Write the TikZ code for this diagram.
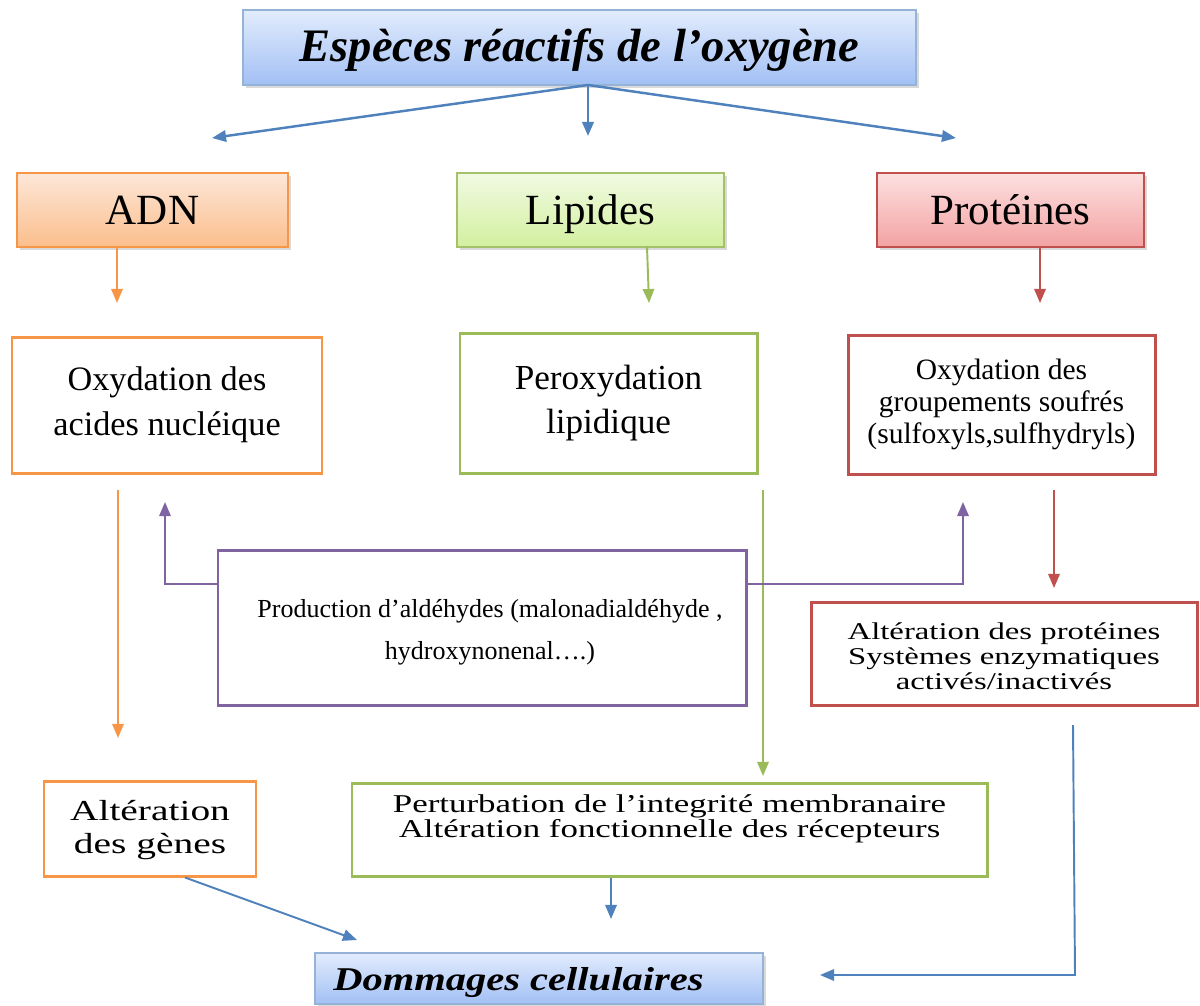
\documentclass[tikz,border=0pt]{standalone}
\usepackage{fontspec}
\setmainfont{Liberation Serif}
\newfontfamily\wideA[FakeStretch=1.36]{Liberation Serif}
\newfontfamily\wideC[FakeStretch=1.22]{Liberation Serif}
\usetikzlibrary{arrows.meta,shadows}
\newlength\px \setlength\px{0.02cm}
\definecolor{cblue}{HTML}{4F81BD}
\definecolor{corange}{HTML}{F79646}
\definecolor{cgreen}{HTML}{9BBB59}
\definecolor{cred}{HTML}{C0504D}
\definecolor{cpurple}{HTML}{8064A2}
\definecolor{btop}{HTML}{E2ECFD}
\definecolor{bbot}{HTML}{A2C0F4}
\definecolor{otop}{HTML}{FDE7D8}
\definecolor{obot}{HTML}{FBBE8C}
\definecolor{gtop}{HTML}{F1FAE2}
\definecolor{gbot}{HTML}{D3F0A0}
\definecolor{rtop}{HTML}{FDE0E0}
\definecolor{rbot}{HTML}{F3A2A2}
\tikzset{
  gbox/.style={draw, line width=0.9pt, inner sep=0pt, align=center,
     drop shadow={shadow xshift=1.5pt,shadow yshift=-1.5pt,opacity=0.3}},
  bluebox/.style={gbox, draw=cblue!60, top color=btop, bottom color=bbot},
  orangebox/.style={gbox, draw=corange, top color=otop, bottom color=obot},
  greenbox/.style={gbox, draw=cgreen!90, top color=gtop, bottom color=gbot},
  redbox/.style={gbox, draw=cred, top color=rtop, bottom color=rbot},
  tbox/.style={draw, line width=1.7pt, fill=white, inner sep=0pt, align=center},
  txt/.style={align=center, inner sep=0pt},
  arr/.style={line width=1.1pt, -{Triangle[length=8pt,width=6.5pt]}},
  headtxt/.style={font=\fontsize{24.5}{28}\selectfont, text height=17pt, text depth=0pt},
}
\begin{document}
\begin{tikzpicture}[x=0.02cm,y=-0.02cm]
\useasboundingbox (0,0) rectangle (1200,1005);
% top level
\node[bluebox, minimum width=673\px, minimum height=75\px, text height=16pt, text depth=0pt,
  font=\fontsize{26.5}{30}\selectfont\bfseries\itshape] (title) at (579.5,47.5)
  {Espèces réactifs de l’oxygène};
\node[orangebox, headtxt, minimum width=271\px, minimum height=74\px] (adn) at (152.5,210) {ADN};
\node[greenbox, headtxt, minimum width=267\px, minimum height=74\px] (lip) at (590.5,210) {Lipides};
\node[redbox, headtxt, minimum width=267\px, minimum height=74\px] (prot) at (1010.5,210) {Protéines};
% second level
\node[tbox, draw=corange, minimum width=310\px, minimum height=136\px,
  font=\fontsize{19.5}{25.5}\selectfont] (oxa) at (167,405)
  {Oxydation des\\ acides nucléique};
\node[tbox, draw=cgreen, minimum width=297\px, minimum height=140\px,
  font=\fontsize{20}{25.5}\selectfont] (perox) at (608.5,403)
  {Peroxydation\\ lipidique};
\node[tbox, draw=cred, minimum width=307\px, minimum height=139\px,
  font=\fontsize{16.8}{18}\selectfont] (oxs) at (1001.5,404.5)
  {Oxydation des\\ groupements soufrés\\ (sulfoxyls,sulfhydryls)};
% middle
\node[tbox, draw=cpurple, minimum width=528\px, minimum height=155\px] (prod) at (482,627.5) {};
\node[txt, font=\fontsize{14.8}{24}\selectfont] (prodt) at (490,632)
  {Production d’aldéhydes (malonadialdéhyde ,\\ hydroxynonenal….)};
\node[tbox, draw=cred, minimum width=386\px, minimum height=103\px] (altp) at (1004,653.5) {};
\node[txt, font=\wideA\fontsize{13.7}{14.2}\selectfont] (altpt) at (1004,656)
  {Altération des protéines\\ Systèmes enzymatiques\\ activés/inactivés};
% bottom
\node[tbox, draw=corange, minimum width=212\px, minimum height=95\px] (altg) at (150,828.5) {};
\node[txt, font=\wideA\fontsize{16.5}{19}\selectfont] (altgt) at (150,830)
  {Altération\\ des gènes};
\node[tbox, draw=cgreen, minimum width=635\px, minimum height=93\px] (pert) at (669.5,829.5) {};
\node[txt, font=\wideA\fontsize{14.6}{14.2}\selectfont] (pertt) at (669.5,819)
  {Perturbation de l’integrité membranaire\\ Altération fonctionnelle des récepteurs};
\node[bluebox, minimum width=448\px, minimum height=51\px, drop shadow={opacity=0}] (dom) at (539,978.5) {};
\node[anchor=base west, inner sep=0pt, font=\wideC\fontsize{18.9}{20}\selectfont\bfseries\itshape] (domt) at (333,990)
  {Dommages cellulaires};
% coordinates
\coordinate (t0) at (588,85);
\coordinate (tl) at (212,138);
\coordinate (tm) at (588,136);
\coordinate (tr) at (956,138);
% title arrows
\draw[arr, draw=cblue, line width=1.4pt] (t0) -- (tl);
\draw[arr, draw=cblue, line width=1.4pt] (t0) -- (tm);
\draw[arr, draw=cblue, line width=1.4pt] (t0) -- (tr);
% level arrows
\coordinate (a1) at (117,247); \coordinate (a2) at (117,303);
\draw[arr, draw=corange] (a1) -- (a2);
\coordinate (l1) at (647,247); \coordinate (l2) at (649,303);
\draw[arr, draw=cgreen] (l1) -- (l2);
\coordinate (p1) at (1040,247); \coordinate (p2) at (1040,303);
\draw[arr, draw=cred] (p1) -- (p2);
% long arrows
\coordinate (o1) at (118,490); \coordinate (o2) at (118,738);
\draw[arr, draw=corange] (o1) -- (o2);
\coordinate (g1) at (763,490); \coordinate (g2) at (763,776);
\draw[arr, draw=cgreen] (g1) -- (g2);
\coordinate (r1) at (1054,490); \coordinate (r2) at (1054,588);
\draw[arr, draw=cred] (r1) -- (r2);
% purple
\coordinate (pl) at (165,502); \coordinate (pr) at (963,502);
\draw[arr, draw=cpurple] (prod.west |- 0,584) -| (pl);
\draw[arr, draw=cpurple] (prod.east |- 0,584) -| (pr);
% bottom blue
\coordinate (d1) at (357,940);
\draw[arr, draw=cblue] (altg.south -| 185,0) -- (d1);
\coordinate (d2) at (611,919);
\draw[arr, draw=cblue] (pert.south -| d2) -- (d2);
\coordinate (b1) at (1073,725); \coordinate (b2) at (1075,975); \coordinate (d3) at (820,975);
\draw[arr, draw=cblue] (b1) -- (b2) -- (d3);
\end{tikzpicture}
\end{document}
